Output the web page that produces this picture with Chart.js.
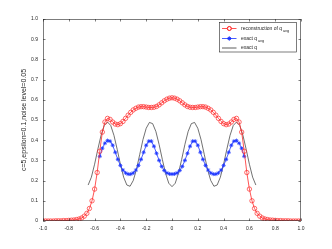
<!DOCTYPE html>
<html>
<head>
<meta charset="utf-8">
<script src="https://cdn.jsdelivr.net/npm/chart.js@4.4.0/dist/chart.umd.min.js"></script>
<style>
  html, body { margin: 0; padding: 0; background: #fff; }
  canvas { display: block; }
</style>
</head>
<body>
<canvas id="qChart" width="332" height="249"></canvas>
<script>
// valeurs (x de -1 a 1)
const reconX = [
  -1.00, -0.98, -0.96, -0.94, -0.92, -0.90, -0.88, -0.86, -0.84, -0.82,
  -0.80, -0.78, -0.76, -0.74, -0.72, -0.70, -0.68, -0.66, -0.64, -0.62,
  -0.60, -0.58, -0.56, -0.54, -0.52, -0.50, -0.48, -0.46, -0.44, -0.42,
  -0.40, -0.38, -0.36, -0.34, -0.32, -0.30, -0.28, -0.26, -0.24, -0.22,
  -0.20, -0.18, -0.16, -0.14, -0.12, -0.10, -0.08, -0.06, -0.04, -0.02,
  0.00,
  0.02, 0.04, 0.06, 0.08, 0.10, 0.12, 0.14, 0.16, 0.18, 0.20,
  0.22, 0.24, 0.26, 0.28, 0.30, 0.32, 0.34, 0.36, 0.38, 0.40,
  0.42, 0.44, 0.46, 0.48, 0.50, 0.52, 0.54, 0.56, 0.58, 0.60,
  0.62, 0.64, 0.66, 0.68, 0.70, 0.72, 0.74, 0.76, 0.78, 0.80,
  0.82, 0.84, 0.86, 0.88, 0.90, 0.92, 0.94, 0.96, 0.98, 1.00
];
const reconQ = [
  0, 0, 0, 0, 0, 0.001, 0.001, 0.001, 0.002, 0.002,
  0.003, 0.004, 0.005, 0.007, 0.010, 0.015, 0.024, 0.038, 0.062, 0.100,
  0.158, 0.240, 0.345, 0.440, 0.490, 0.508, 0.503, 0.490, 0.480, 0.477,
  0.482, 0.493, 0.508, 0.524, 0.538, 0.550, 0.558, 0.564, 0.566, 0.566,
  0.564, 0.562, 0.562, 0.563, 0.567, 0.575, 0.585, 0.595, 0.603, 0.608,
  0.610,
  0.608, 0.603, 0.595, 0.585, 0.575, 0.567, 0.563, 0.562, 0.562, 0.564,
  0.566, 0.566, 0.564, 0.558, 0.550, 0.538, 0.524, 0.508, 0.493, 0.482,
  0.477, 0.480, 0.490, 0.503, 0.508, 0.490, 0.440, 0.345, 0.240, 0.158,
  0.100, 0.062, 0.038, 0.024, 0.015, 0.010, 0.007, 0.005, 0.004, 0.003,
  0.002, 0.002, 0.001, 0.001, 0.001, 0, 0, 0, 0, 0
];

const avgX = [
  -0.56, -0.54, -0.52, -0.50, -0.48, -0.46, -0.44, -0.42, -0.40, -0.38,
  -0.36, -0.34, -0.32, -0.30, -0.28, -0.26, -0.24, -0.22, -0.20, -0.18,
  -0.16, -0.14, -0.12, -0.10, -0.08, -0.06, -0.04, -0.02,
  0.00,
  0.02, 0.04, 0.06, 0.08, 0.10, 0.12, 0.14, 0.16, 0.18, 0.20,
  0.22, 0.24, 0.26, 0.28, 0.30, 0.32, 0.34, 0.36, 0.38, 0.40,
  0.42, 0.44, 0.46, 0.48, 0.50, 0.52, 0.54, 0.56
];
const avgQ = [
  0.320, 0.360, 0.385, 0.398, 0.395, 0.375, 0.340, 0.305, 0.275, 0.252,
  0.238, 0.232, 0.232, 0.238, 0.252, 0.275, 0.305, 0.340, 0.375, 0.395,
  0.395, 0.370, 0.335, 0.300, 0.270, 0.250, 0.238, 0.233,
  0.232,
  0.233, 0.238, 0.250, 0.270, 0.300, 0.335, 0.370, 0.395, 0.395, 0.375,
  0.340, 0.305, 0.275, 0.252, 0.238, 0.232, 0.232, 0.238, 0.252, 0.275,
  0.305, 0.340, 0.375, 0.395, 0.398, 0.385, 0.360, 0.320
];

const exactX = [
  -0.650, -0.625, -0.600, -0.575, -0.550, -0.525, -0.500, -0.475, -0.450, -0.425,
  -0.400, -0.375, -0.350, -0.325, -0.300, -0.275, -0.250, -0.225, -0.200, -0.175,
  -0.150, -0.125, -0.100, -0.075, -0.050, -0.025,
  0.000,
  0.025, 0.050, 0.075, 0.100, 0.125, 0.150, 0.175, 0.200, 0.225, 0.250,
  0.275, 0.300, 0.325, 0.350, 0.375, 0.400, 0.425, 0.450, 0.475, 0.500,
  0.525, 0.550, 0.575, 0.600, 0.625, 0.650
];
const exactQ = [
  0.178, 0.217, 0.281, 0.355, 0.424, 0.473, 0.490, 0.473, 0.424, 0.355,
  0.281, 0.217, 0.178, 0.172, 0.201, 0.257, 0.330, 0.403, 0.459, 0.488,
  0.482, 0.443, 0.379, 0.305, 0.236, 0.187,
  0.170,
  0.187, 0.236, 0.305, 0.379, 0.443, 0.482, 0.488, 0.459, 0.403, 0.330,
  0.257, 0.201, 0.172, 0.178, 0.217, 0.281, 0.355, 0.424, 0.473, 0.490,
  0.473, 0.424, 0.355, 0.281, 0.217, 0.178
];

const xTicks = [-1, -0.8, -0.6, -0.4, -0.2, 0, 0.2, 0.4, 0.6, 0.8, 1];
const yTicks = [0, 0.1, 0.2, 0.3, 0.4, 0.5, 0.6, 0.7, 0.8, 0.9, 1];
const yTitle = 'c=5,epsilon=0.1,noise level=0.05';

const AXIS = '#262626';
const RED = '#ff2a2a';
const BLUE = '#1a33ff';
const FONT = "'Liberation Sans', Arial, sans-serif";

function pts(xs, ys) {
  return xs.map((x, i) => ({ x: x, y: ys[i] }));
}

// cadre facon matlab + graduations vers l'interieur
const boxPlugin = {
  id: 'matlabBox',
  afterDatasetsDraw(chart) {
    const { ctx, chartArea: a, scales } = chart;
    const len = 2.5;
    ctx.save();
    ctx.strokeStyle = AXIS;
    ctx.lineWidth = 0.6;
    ctx.strokeRect(a.left + 0.5, a.top + 0.5, a.right - a.left - 1, a.bottom - a.top - 1);
    ctx.beginPath();
    xTicks.forEach(v => {
      const px = Math.round(scales.x.getPixelForValue(v)) + 0.5;
      ctx.moveTo(px, a.bottom); ctx.lineTo(px, a.bottom - len);
      ctx.moveTo(px, a.top); ctx.lineTo(px, a.top + len);
    });
    yTicks.forEach(v => {
      const py = Math.round(scales.y.getPixelForValue(v)) + 0.5;
      ctx.moveTo(a.left, py); ctx.lineTo(a.left + len, py);
      ctx.moveTo(a.right, py); ctx.lineTo(a.right - len, py);
    });
    ctx.stroke();
    ctx.restore();
  },
  afterDraw(chart) {
    // legende avec indices
    const { ctx } = chart;
    const bx = 219.5, by = 22.5, bw = 77, bh = 29.5;
    ctx.save();
    ctx.fillStyle = '#fff';
    ctx.fillRect(bx, by, bw, bh);
    ctx.strokeStyle = AXIS;
    ctx.lineWidth = 0.6;
    ctx.strokeRect(bx, by, bw, bh);
    const rows = [
      { y: 28.5, color: RED, marker: 'circle', text: 'reconstruction of q', sub: 'avg' },
      { y: 38.5, color: BLUE, marker: 'star', text: 'exact q', sub: 'avg' },
      { y: 48, color: '#333', marker: null, text: 'exact q', sub: '' }
    ];
    rows.forEach(r => {
      ctx.strokeStyle = r.color;
      ctx.lineWidth = 0.8;
      ctx.beginPath();
      ctx.moveTo(222, r.y); ctx.lineTo(236.5, r.y);
      ctx.stroke();
      if (r.marker) {
        Chart.helpers.drawPoint(ctx, { pointStyle: r.marker, radius: 2, borderWidth: 0.8 }, 229.3, r.y);
        ctx.stroke();
      }
      ctx.fillStyle = AXIS;
      ctx.textBaseline = 'middle';
      ctx.font = '5px ' + FONT;
      ctx.fillText(r.text, 241, r.y);
      if (r.sub) {
        const w = ctx.measureText(r.text).width;
        ctx.font = '3.8px ' + FONT;
        ctx.fillText(r.sub, 241 + w + 0.8, r.y + 2.2);
      }
    });
    ctx.restore();
  }
};

const tickFont = { family: FONT, size: 5 };

new Chart(document.getElementById('qChart'), {
  type: 'line',
  data: {
    datasets: [
      {
        label: 'reconstruction of q_avg',
        data: pts(reconX, reconQ),
        borderColor: RED,
        backgroundColor: 'rgba(0,0,0,0)',
        borderWidth: 0.8,
        pointStyle: 'circle',
        pointRadius: 2.2,
        pointBorderWidth: 0.7,
        pointBorderColor: RED,
        pointBackgroundColor: 'rgba(0,0,0,0)',
        tension: 0
      },
      {
        label: 'exact q_avg',
        data: pts(avgX, avgQ),
        borderColor: BLUE,
        backgroundColor: BLUE,
        borderWidth: 0.8,
        pointStyle: 'star',
        pointRadius: 2,
        pointBorderWidth: 0.8,
        pointBorderColor: BLUE,
        tension: 0
      },
      {
        label: 'exact q',
        data: pts(exactX, exactQ),
        borderColor: '#333',
        borderWidth: 0.7,
        pointRadius: 0,
        tension: 0
      }
    ]
  },
  options: {
    responsive: false,
    animation: false,
    devicePixelRatio: 1,
    layout: { padding: { left: 0, top: 19, right: 31, bottom: 0 } },
    plugins: {
      legend: { display: false },
      tooltip: { enabled: false }
    },
    scales: {
      x: {
        type: 'linear',
        min: -1,
        max: 1,
        afterFit: s => { s.height = 28; },
        afterBuildTicks: s => { s.ticks = xTicks.map(v => ({ value: v })); },
        grid: { display: true, drawOnChartArea: false, drawTicks: false },
        border: { display: false },
        ticks: { color: AXIS, font: tickFont, padding: 5, maxRotation: 0, autoSkip: false }
      },
      y: {
        type: 'linear',
        min: 0,
        max: 1,
        afterFit: s => { s.width = 43; },
        afterBuildTicks: s => { s.ticks = yTicks.map(v => ({ value: v })); },
        grid: { display: true, drawOnChartArea: false, drawTicks: false },
        border: { display: false },
        ticks: { color: AXIS, font: tickFont, padding: 5, autoSkip: false },
        title: {
          display: true,
          text: yTitle,
          color: AXIS,
          font: { family: FONT, size: 7 },
          padding: { top: 20, bottom: 0 }
        }
      }
    }
  },
  plugins: [boxPlugin]
});
</script>
</body>
</html>
